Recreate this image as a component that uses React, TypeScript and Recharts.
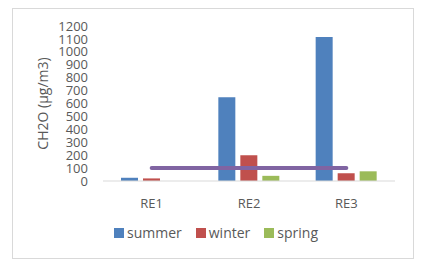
import { ComposedChart, Bar, Line, XAxis, YAxis, Legend } from 'recharts'

const categories = ['RE1', 'RE2', 'RE3']
const summer = [25, 648, 1115]
const winter = [20, 200, 60]
const spring = [0, 40, 75]
const limit = [100, 100, 100]
const yTicks = [0, 100, 200, 300, 400, 500, 600, 700, 800, 900, 1000, 1100, 1200]

const data = categories.map((name, i) => ({
  name,
  summer: summer[i],
  winter: winter[i],
  spring: spring[i],
  limit: limit[i],
}))

const legendItems = [
  { key: 'summer', color: '#4F81BD' },
  { key: 'winter', color: '#C0504D' },
  { key: 'spring', color: '#9BBB59' },
]

const font = '"Open Sans", sans-serif'
const textColor = '#595959'

function SimpleLegend() {
  return (
    <div style={{ display: 'flex', justifyContent: 'center', fontFamily: font, fontSize: 14, color: textColor }}>
      {legendItems.map((it) => (
        <span key={it.key} style={{ display: 'flex', alignItems: 'center', margin: '0 7px' }}>
          <span style={{ width: 10, height: 10, background: it.color, marginRight: 3, display: 'inline-block' }} />
          {it.key}
        </span>
      ))}
    </div>
  )
}

export default function App() {
  return (
    <div style={{ position: 'absolute', left: 0, top: 0, width: 432, height: 265, background: '#fff' }}>
      <div
        style={{
          position: 'absolute',
          left: 12,
          top: 8,
          width: 400,
          height: 249,
          border: '1px solid #D9D9D9',
        }}
      />
      <ComposedChart
        width={432}
        height={265}
        data={data}
        margin={{ top: 26, right: 37, left: 43, bottom: 54 }}
        barGap={5}
        style={{ position: 'absolute', left: 0, top: 0 }}
      >
        <XAxis
          dataKey="name"
          height={30}
          tickLine={false}
          axisLine={{ stroke: '#D9D9D9' }}
          tickMargin={12}
          tick={{ fill: textColor, fontSize: 13, fontFamily: font }}
        />
        <YAxis
          width={60}
          domain={[0, 1200]}
          ticks={yTicks}
          interval={0}
          tickLine={false}
          axisLine={false}
          tickMargin={9}
          tick={{ fill: textColor, fontSize: 13, fontFamily: font }}
          label={{
            value: 'CH2O (µg/m3)',
            angle: -90,
            position: 'insideLeft',
            offset: 0,
            style: { textAnchor: 'middle', fill: textColor, fontSize: 14, fontFamily: font },
          }}
        />
        <Legend
          verticalAlign="middle"
          layout="horizontal"
          wrapperStyle={{ top: 223, left: 0, width: 432 }}
          content={() => <SimpleLegend />}
        />
        <Bar dataKey="summer" fill="#4F81BD" barSize={17} isAnimationActive={false} />
        <Bar dataKey="winter" fill="#C0504D" barSize={17} isAnimationActive={false} />
        <Bar dataKey="spring" fill="#9BBB59" barSize={17} isAnimationActive={false} />
        <Line
          dataKey="limit"
          stroke="#8064A2"
          strokeWidth={4}
          strokeLinecap="round"
          dot={false}
          legendType="none"
          isAnimationActive={false}
        />
      </ComposedChart>
    </div>
  )
}
